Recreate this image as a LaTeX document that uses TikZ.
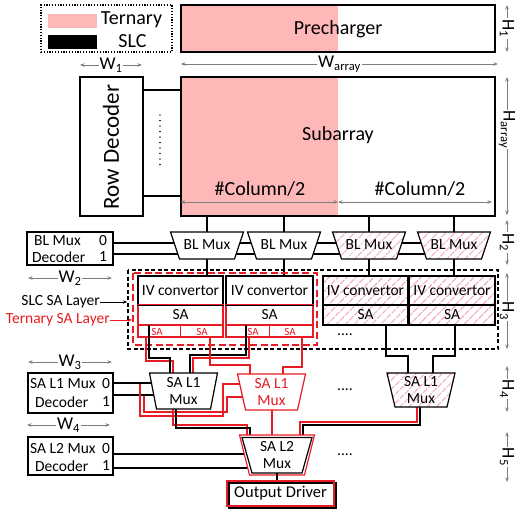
\documentclass[tikz,border=0pt]{standalone}
\usepackage{fontspec}
\setmainfont{Carlito}
\usetikzlibrary{arrows.meta,patterns.meta}
\definecolor{tpink}{RGB}{255,184,184}
\definecolor{tred}{RGB}{232,28,36}
\definecolor{hpink}{RGB}{244,170,196}
\definecolor{dimgray}{RGB}{125,125,125}
\newcommand{\trapz}[6]{\draw[#1] (#2-#5,#3) -- (#2+#5,#3) -- (#2+#6,#4) -- (#2-#6,#4) -- cycle;}
\begin{document}
\begin{tikzpicture}[x=1pt,y=-1pt,
  frame/.style={draw, line width=1.2pt, inner sep=0pt},
  wbox/.style={frame, fill=white},
  hbox/.style={draw, line width=1.2pt, inner sep=0pt, preaction={fill=white}, pattern={Lines[angle=45,distance=6.5pt,line width=1.5pt]}, pattern color=hpink},
  wire/.style={line width=1.2pt},
  rwire/.style={line width=1.2pt, draw=tred},
  dimarr/.style={draw=dimgray, line width=0.8pt, {Stealth[length=4.5pt,width=3.5pt]}-{Stealth[length=4.5pt,width=3.5pt]}},
  dimlab/.style={fill=white, inner sep=1pt, text=black, font=\fontsize{18}{18}\selectfont},
  big/.style={font=\fontsize{20}{22}\selectfont},
  mid/.style={font=\fontsize{15.5}{17}\selectfont, inner sep=0pt},
  small/.style={font=\fontsize{11}{12}\selectfont, text=tred, inner sep=0pt},
]
\useasboundingbox (0,0) rectangle (519,511);

% ---------- legend ----------
\node[draw, line width=1.2pt, dash pattern=on 1.2pt off 1.6pt, minimum width=131, minimum height=47, inner sep=0] (leg) at (106.5,28.5) {};
\node[fill=tpink, minimum width=49, minimum height=14, inner sep=0] (sw1) at (72.5,21) {};
\node[fill=black, minimum width=49, minimum height=14, inner sep=0] (sw2) at (72.5,42) {};
\node[big, inner sep=0] (lt) at (131.5,20) {Ternary};
\node[big, inner sep=0] (ls) at (132.5,41) {SLC};

% ---------- precharger ----------
\fill[tpink] (181,5) rectangle (338,52);
\node[frame, minimum width=314, minimum height=47] (pre) at (338,28.5) {};
\node[big] (pretxt) at (338,29) {Precharger};

% ---------- dimension arrows (top) ----------
\coordinate (w1a) at (80,65); \coordinate (w1b) at (142,65);
\draw[dimarr] (w1a) -- (w1b) node[midway, dimlab] (w1l) {W\textsubscript{1}};
\coordinate (waa) at (181,64); \coordinate (wab) at (498,64);
\draw[dimarr] (waa) -- (wab) node[pos=0.5, dimlab] (wal) {W\textsubscript{array}};

% ---------- subarray + row decoder ----------
\fill[tpink] (181,77) rectangle (338,216);
\node[frame, minimum width=314, minimum height=139] (sub) at (338,146.5) {};
\node[big] (subtxt) at (338,135) {Subarray};
\node[big] (c1) at (260,189) {\#Column/2};
\node[big] (c2) at (420,189) {\#Column/2};
\coordinate (cm) at (338,202);
\draw[dimarr] (sub.west |- cm) -- (cm);
\draw[dimarr] (cm) -- (492,202);
\node[frame, minimum width=63, minimum height=139] (rowdec) at (111.5,146.5) {};
\node[rotate=90, font=\fontsize{23}{23}\selectfont] (rowtxt) at (111,147) {Row Decoder};
\draw[wire] (rowdec.east |- 0,90) -- (sub.west |- 0,90);
\draw[wire] (rowdec.east |- 0,196) -- (sub.west |- 0,196);
\draw[line width=1.3pt, dash pattern=on 0.01pt off 5.5pt, line cap=round] (160,115) -- (160,166);

% ---------- right-hand heights ----------
\draw[dimarr] (507,5) -- (507,52) node[midway, dimlab, rotate=-90] (h1) {H\textsubscript{1}};
\draw[dimarr] (507,77) -- (507,215) node[pos=0.38, dimlab, rotate=-90] (ha) {H\textsubscript{array}};
\draw[dimarr] (507,220) -- (507,265) node[midway, dimlab, rotate=-90] (h2) {H\textsubscript{2}};
\draw[dimarr] (507,273) -- (507,349) node[midway, dimlab, rotate=-90] (h3) {H\textsubscript{3}};
\draw[dimarr] (507,366) -- (507,412) node[midway, dimlab, rotate=-90] (h4) {H\textsubscript{4}};
\draw[dimarr] (507,432) -- (507,482) node[midway, dimlab, rotate=-90] (h5) {H\textsubscript{5}};

% ---------- BL mux decoder ----------
\node[frame, minimum width=86, minimum height=33] (bldec) at (70,248.5) {};
\node[mid, anchor=west] (bld1) at (34,241) {BL Mux};
\node[mid] (bld0) at (103,241) {0};
\node[mid, anchor=west] (bld2) at (32,257) {Decoder};
\node[mid] (bld3) at (103,257) {1};
\draw[wire] (bldec.east |- 0,243) -- (454,243);
\draw[wire] (bldec.east |- 0,254) -- (454,254);

% vertical lines subarray -> BL mux -> IV
\foreach \cx in {207,284,369,454} {
  \draw[wire] (sub.south -| \cx,0) -- (\cx,232);
  \draw[wire] (\cx,259) -- (\cx,276);
}
% BL muxes
\trapz{wbox}{207}{232}{259}{36.5}{27.5}
\trapz{wbox}{284}{232}{259}{36.5}{27.5}
\trapz{hbox}{369}{232}{259}{36.5}{27.5}
\trapz{hbox}{454}{232}{259}{36.5}{27.5}
\node[mid] (blm1) at (207,245) {BL Mux};
\node[mid] (blm2) at (284,245) {BL Mux};
\node[mid] (blm3) at (369,245) {BL Mux};
\node[mid] (blm4) at (454,245) {BL Mux};

% ---------- SA layer ----------
\draw[line width=1.4pt, dash pattern=on 4pt off 2.5pt] (128,270) rectangle (498,349);
\node[mid, anchor=east] (slcl) at (100,302) {SLC SA Layer};
\draw[line width=0.9pt, -{Stealth[length=4pt,width=3.5pt]}] (slcl.east) -- (127,302);
\node[mid, anchor=east, text=tred] (terl) at (110,320) {Ternary SA Layer};

% IV / SA units
\node[wbox, minimum width=85, minimum height=29] (iv1) at (180.5,290.5) {};
\node[wbox, minimum width=87, minimum height=29] (iv2) at (269.5,290.5) {};
\node[hbox, minimum width=85, minimum height=29] (iv3) at (365.5,290.5) {};
\node[hbox, minimum width=86, minimum height=29] (iv4) at (452,290.5) {};
\node[hbox, minimum width=85, minimum height=20] (sa3) at (365.5,315) {};
\node[hbox, minimum width=86, minimum height=20] (sa4) at (452,315) {};
\node[draw=tred, line width=1.2pt, minimum width=85, minimum height=20, inner sep=0] (sa1) at (180.5,315) {};
\node[draw=tred, line width=1.2pt, minimum width=87, minimum height=20, inner sep=0] (sa2) at (269.5,315) {};
\draw[line width=1.2pt] (iv1.south west) -- (iv1.south east);
\draw[line width=1.2pt] (iv2.south west) -- (iv2.south east);
\foreach \n in {1,2,3,4} {
  \node[mid] (ivt\n) at (iv\n.center) {IV convertor};
  \node[mid] (sat\n) at (sa\n.center) {SA};
}
% ternary sub-row of SAs
\node[draw=tred, line width=1.2pt, minimum width=85, minimum height=12, inner sep=0] (sr1) at (180.5,331) {};
\node[draw=tred, line width=1.2pt, minimum width=87, minimum height=12, inner sep=0] (sr2) at (269.5,331) {};
\draw[rwire] (sr1.north) -- (sr1.south);
\draw[rwire] (sr2.north) -- (sr2.south);
\node[small] (ss1) at (157,331.5) {SA};
\node[small] (ss2) at (202,331.5) {SA};
\node[small] (ss3) at (253,331.5) {SA};
\node[small] (ss4) at (290,331.5) {SA};
\node[mid] (dots1) at (345,335) {....};

\draw[tred, line width=1.4pt, dash pattern=on 7pt off 3.5pt] (133,273) rectangle (317,345);
\draw[tred, line width=0.9pt, -{Stealth[length=4pt,width=3.5pt]}] (terl.east) -- (132,320);

% ---------- W2, W3, W4 ----------
\draw[dimarr] (28,278) -- (112,278) node[midway, dimlab] (w2) {W\textsubscript{2}};
\draw[dimarr] (28,362) -- (112,362) node[midway, dimlab] (w3) {W\textsubscript{3}};
\draw[dimarr] (27,425) -- (110,425) node[midway, dimlab] (w4) {W\textsubscript{4}};

% ---------- SA L1 mux decoder ----------
\node[frame, minimum width=85, minimum height=40] (l1dec) at (70.5,393) {};
\node[mid, anchor=west] (l1d1) at (30,384) {SA L1 Mux};
\node[mid] (l1d0) at (106,384) {0};
\node[mid, anchor=west] (l1d2) at (35,402) {Decoder};
\node[mid] (l1d3) at (106,402) {1};
\draw[wire] (l1dec.east |- 0,383) -- (160,383);
\draw[wire] (l1dec.east |- 0,395) -- (160,395);
% red select lines to the ternary mux
\draw[rwire] (140,384) -- (140,416) -- (223,416) -- (223,384) -- (250,384);
\draw[rwire] (144,396) -- (144,412) -- (227,412) -- (227,397) -- (250,397);

% ---------- wires SA -> L1 muxes ----------
\draw[rwire] (146,337) -- (146,361) -- (173,361) -- (173,380);
\draw[wire] (149,325) -- (149,358) -- (170,358) -- (170,380);
\draw[rwire] (249,337) -- (249,358) -- (193,358) -- (193,380);
\draw[wire] (246,325) -- (246,355) -- (190,355) -- (190,380);
\draw[rwire] (210,337) -- (210,365) -- (250,365) -- (250,380);
\draw[rwire] (302,337) -- (302,367) -- (283,367) -- (283,380);
\draw[wire] (386,325) -- (386,356) -- (408,356) -- (408,380);
\draw[wire] (455,325) -- (455,356) -- (433,356) -- (433,380);

% ---------- wires L1 -> L2 ----------
\draw[rwire] (173,400) -- (173,425) -- (247,425) -- (247,445);
\draw[wire] (176,400) -- (176,428) -- (250,428) -- (250,445);
\draw[rwire] (272,400) -- (272,445);
\draw[rwire] (417,400) -- (417,422) -- (300,422) -- (300,445);
\draw[wire] (420,400) -- (420,425) -- (303,425) -- (303,445);

% ---------- SA L1 muxes ----------
\trapz{wbox}{183.5}{373}{409}{34}{27}
\trapz{draw=tred, line width=1.2pt, fill=white}{271.5}{374}{410}{34}{26}
\trapz{hbox}{421}{373}{407}{34}{26}
\node[mid, align=center] (l1m1) at (183.5,391) {SA L1\\Mux};
\node[mid, align=center, text=tred] (l1m2) at (271.5,392) {SA L1\\Mux};
\node[mid, align=center] (l1m3) at (421,390) {SA L1\\Mux};
\node[mid] (dots2) at (345,390) {....};

% ---------- SA L2 mux decoder ----------
\node[frame, minimum width=85, minimum height=38] (l2dec) at (70.5,456) {};
\node[mid, anchor=west] (l2d1) at (30,449) {SA L2 Mux};
\node[mid] (l2d0) at (106,449) {0};
\node[mid, anchor=west] (l2d2) at (35,466) {Decoder};
\node[mid] (l2d3) at (106,466) {1};
\draw[wire] (l2dec.east |- 0,454) -- (260,454);
\draw[wire] (l2dec.east |- 0,468) -- (260,468);

% ---------- SA L2 mux + output driver ----------
\trapz{draw=tred, line width=1.2pt, fill=white}{277}{435}{475}{37.5}{27.5}
\trapz{draw, line width=1.2pt, fill=white}{277}{437.5}{473}{35}{25}
\node[mid, align=center] (l2m) at (277,455) {SA L2\\Mux};
\node[mid] (dots3) at (345,455) {....};
\node[frame, minimum width=107, minimum height=25] (odb) at (282.5,495.5) {};
\node[draw=tred, line width=1.2pt, inner sep=0, minimum width=107, minimum height=25] (od) at (280.5,493.5) {};
\node[font=\fontsize{16.5}{17}\selectfont, inner sep=0] (odt) at (od.center) {Output Driver};
\draw[wire] (277,473) -- (od.north -| 277,0);
\end{tikzpicture}
\end{document}
